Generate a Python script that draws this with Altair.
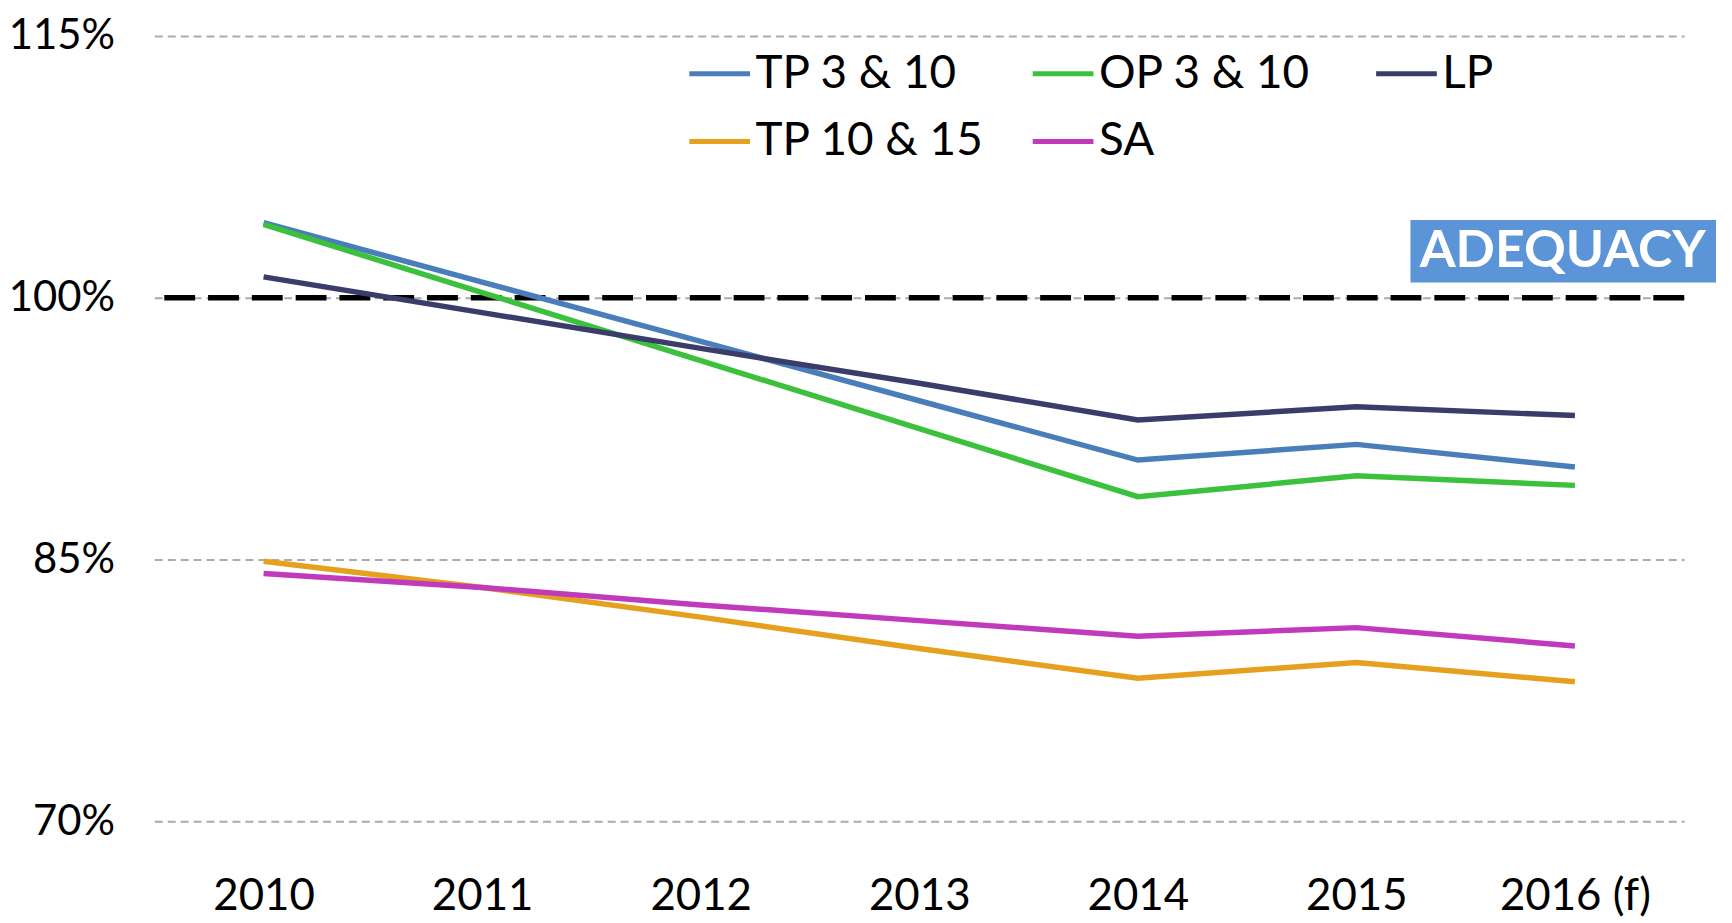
import altair as alt
import pandas as pd

years = ["2010", "2011", "2012", "2013", "2014", "2015", "2016 (f)"]
series = ["TP 3 & 10", "OP 3 & 10", "LP", "TP 10 & 15", "SA"]
colors = ["#4A7EBB", "#3CC13C", "#3A3D6A", "#E5A11E", "#C03ABB"]

tp_3_10 = [104.3, 100.9, 97.5, 94.1, 90.7, 91.6, 90.3]
op_3_10 = [104.2, 100.3, 96.4, 92.5, 88.6, 89.8, 89.25]
lp = [101.2, 99.15, 97.1, 95.1, 93.0, 93.75, 93.25]
tp_10_15 = [84.9, 83.4, 81.7, 79.9, 78.2, 79.1, 78.0]
sa = [84.2, 83.4, 82.4, 81.5, 80.6, 81.1, 80.05]

y_ticks = [70, 85, 100, 115]
adequacy_level = 100
annotation = "ADEQUACY"

# legend fills column by column in a 2-row grid: reorder so rows read as in the reference
legend_order = ["TP 3 & 10", "TP 10 & 15", "OP 3 & 10", "SA", "LP"]
color_map = dict(zip(series, colors))
legend_colors = [color_map[s] for s in legend_order]

rows = []
for name, vals in zip(series, [tp_3_10, op_3_10, lp, tp_10_15, sa]):
    for yr, v in zip(years, vals):
        rows.append({"year": yr, "series": name, "value": v})
df = pd.DataFrame(rows)

FONT = "Lato"

x_enc = alt.X(
    "year:N",
    sort=years,
    scale=alt.Scale(type="point", padding=0.5),
    axis=alt.Axis(
        title=None, domain=False, ticks=False, labelAngle=0,
        labelFont=FONT, labelFontSize=44, labelColor="#000000",
        labelPadding=54, grid=False,
    ),
)
y_enc = alt.Y(
    "value:Q",
    scale=alt.Scale(domain=[70, 115], nice=False, zero=False),
    axis=alt.Axis(
        title=None, domain=False, ticks=False, values=y_ticks,
        labelExpr="datum.value + '%'",
        labelFont=FONT, labelFontSize=42, labelColor="#000000",
        labelPadding=40, grid=True, gridColor="#ABABAB",
        gridDash=[8, 5], gridWidth=2,
    ),
)

adequacy_rule = alt.Chart(pd.DataFrame({"v": [adequacy_level]})).mark_rule(
    color="#000000", strokeWidth=5.5, strokeDash=[31, 13]
).encode(y=alt.Y("v:Q"))

lines = alt.Chart(df).mark_line(strokeWidth=5.5).encode(
    x=x_enc,
    y=y_enc,
    color=alt.Color(
        "series:N",
        scale=alt.Scale(domain=legend_order, range=legend_colors),
        legend=alt.Legend(
            title=None, orient="none", legendX=535, legendY=5,
            columns=3, gridAlign="all", columnPadding=38, rowPadding=12,
            symbolType="stroke", symbolSize=3721, symbolStrokeWidth=5,
            labelFont=FONT, labelFontSize=46, labelColor="#000000",
            labelOffset=3, labelLimit=500, padding=0,
        ),
    ),
    detail="series:N",
)

box_df = pd.DataFrame({"y1": [104.45], "y2": [100.87], "label": [annotation], "ym": [102.66]})
box = alt.Chart(box_df).mark_rect(color="#5B94D7").encode(
    x=alt.value(1262), x2=alt.value(1569),
    y=alt.Y("y1:Q"), y2=alt.Y2("y2"),
)
box_text = alt.Chart(box_df).mark_text(
    color="#FFFFFF", font=FONT, fontWeight="bold", fontSize=52,
    align="center", baseline="middle",
).encode(x=alt.value(1415), y=alt.Y("ym:Q"), text="label:N")

chart = alt.layer(adequacy_rule, lines, box, box_text).properties(
    width=1537, height=789,
    background="#FFFFFF",
    autosize=alt.AutoSizeParams(type="none"),
    padding={"left": 147, "top": 26, "right": 40, "bottom": 100},
).configure_view(strokeWidth=0, stroke="transparent")

chart.save("out.html", embed_options={"renderer": "svg", "actions": False})
